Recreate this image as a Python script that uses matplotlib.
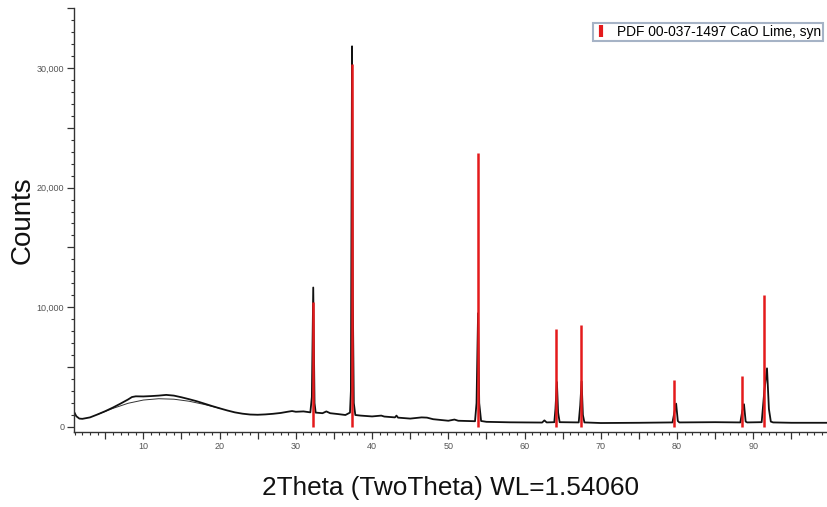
import matplotlib
matplotlib.use("Agg")
import matplotlib.pyplot as plt
from matplotlib.lines import Line2D
from matplotlib.ticker import MultipleLocator, FuncFormatter

plt.rcParams['font.family'] = ['Liberation Sans', 'DejaVu Sans']

# measured pattern (2theta, counts)
two_theta = [1.0, 1.2, 1.6, 2.0, 3.0, 4.0, 5.0, 6.0, 7.0, 8.0, 8.5, 9.0, 10.0,
             11.0, 12.0, 13.0, 14.0, 15.0, 16.0, 17.0, 18.0, 19.0, 20.0, 21.0,
             22.0, 23.0, 24.0, 25.0, 26.0, 27.0, 28.0, 29.0, 29.5, 30.0, 31.0,
             31.9, 32.1, 32.28, 32.45, 32.6, 33.5, 34.0, 34.5, 35.5, 36.5,
             37.1, 37.22, 37.37, 37.47, 37.6, 37.8, 38.5, 40.0, 41.2, 41.6,
             43.0, 43.2, 43.4, 45.0, 46.5, 47.2, 48.0, 50.0, 50.8, 51.3, 53.5,
             53.7, 53.9, 54.05, 54.3, 55.0, 58.0, 60.0, 62.3, 62.6, 62.9, 63.9,
             64.05, 64.24, 64.4, 64.6, 67.1, 67.3, 67.48, 67.65, 67.85, 70.0,
             75.0, 79.4, 79.65, 79.88, 80.1, 80.3, 85.0, 88.3, 88.55, 88.78,
             89.0, 89.2, 91.1, 91.45, 91.8, 92.05, 92.3, 92.6, 95.0, 100.0]
counts = [1150, 900, 700, 680, 800, 1050, 1320, 1620, 1950, 2300, 2500, 2560, 2550,
          2580, 2620, 2680, 2620, 2480, 2320, 2150, 1950, 1750, 1560, 1380,
          1220, 1110, 1040, 1020, 1050, 1100, 1170, 1280, 1330, 1270, 1300,
          1220, 2500, 11650, 2000, 1200, 1150, 1300, 1150, 1080, 1000,
          1200, 3000, 31800, 10900, 2000, 1000, 950, 880, 950, 870,
          800, 950, 780, 700, 800, 780, 650, 520, 620, 520, 480,
          2000, 9500, 2000, 500, 430, 390, 380, 370, 550, 380, 400,
          1500, 3750, 1200, 400, 380, 1800, 3800, 1000, 380, 330,
          350, 380, 1200, 1950, 500, 380, 400, 380, 1300, 1900,
          450, 380, 400, 3000, 4900, 1500, 450, 380, 350, 350]

# smooth amorphous hump fit
fit_theta = [4.0, 6.0, 8.0, 10.0, 12.0, 14.0, 16.0, 18.0, 20.0]
fit_counts = [1050, 1550, 1980, 2250, 2360, 2320, 2150, 1880, 1560]

# PDF 00-037-1497 CaO reference lines
ref_theta = [32.20, 37.35, 53.85, 64.15, 67.37, 79.66, 88.53, 91.47]
ref_counts = [10400, 30300, 22900, 8200, 8500, 3900, 4250, 11000]

fig = plt.figure(figsize=(8.28, 5.07), dpi=100)
ax = fig.add_axes([74 / 828, (507 - 432) / 507, 1 - 74 / 828, (432 - 8) / 507])

ax.plot(fit_theta, fit_counts, color='#333333', lw=0.7)
ax.plot(two_theta, counts, color='#111111', lw=1.3)
ax.vlines(ref_theta, 0, ref_counts, color='#e41a1c', lw=1.8)

ax.set_xlim(0.9, 99.8)
ax.set_ylim(-420, 35000)

for s in ['top', 'right']:
    ax.spines[s].set_visible(False)
for s in ['left', 'bottom']:
    ax.spines[s].set_color('#333333')
    ax.spines[s].set_linewidth(1.0)

ax.xaxis.set_major_locator(MultipleLocator(5))
ax.xaxis.set_minor_locator(MultipleLocator(1))
ax.xaxis.set_major_formatter(FuncFormatter(lambda v, p: '%d' % v if v % 10 == 0 and v > 0 else ''))
ax.yaxis.set_major_locator(MultipleLocator(5000))
ax.yaxis.set_minor_locator(MultipleLocator(1000))
ax.yaxis.set_major_formatter(FuncFormatter(lambda v, p: '{:,.0f}'.format(v) if v % 10000 == 0 else ''))

ax.tick_params(which='major', length=5, width=0.9, color='#333333', labelsize=6.5,
               labelcolor='#555555', pad=2)
ax.tick_params(which='minor', length=2.5, width=0.8, color='#333333')

ax.set_xlabel('2Theta (TwoTheta) WL=1.54060', fontsize=18.8, labelpad=18, color='#111111')
ax.set_ylabel('Counts', fontsize=20, labelpad=1, color='#111111')

handle = Line2D([], [], color='#e41a1c', marker='|', linestyle='none',
                markersize=9, markeredgewidth=3)
leg = fig.legend([handle], ['PDF 00-037-1497 CaO Lime, syn'], loc='upper left',
                 bbox_to_anchor=(593 / 828, 1 - 22.5 / 507), fontsize=9.9,
                 frameon=True, fancybox=False, borderpad=0.15, handlelength=0.9,
                 handletextpad=0.7, borderaxespad=0)
leg.get_frame().set_edgecolor('#90a0b8')
leg.get_frame().set_linewidth(1.5)

fig.savefig('out.png', dpi=100)
